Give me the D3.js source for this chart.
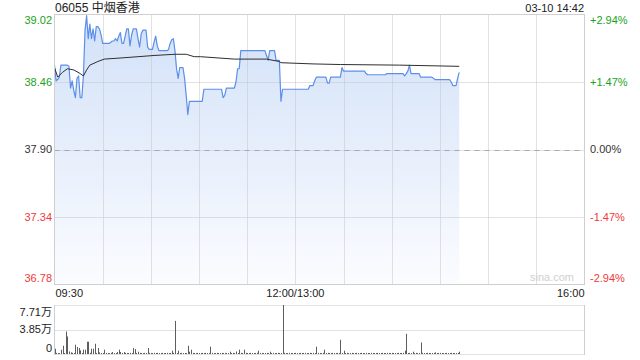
<!DOCTYPE html>
<html>
<head>
<meta charset="utf-8">
<script src="https://cdn.jsdelivr.net/npm/d3@7"></script>
<style>
  body { margin: 0; background: #fff; }
  svg text { font-family: "Liberation Sans", Arial, "Noto Sans CJK SC", sans-serif; font-size: 11px; }
</style>
</head>
<body>
<svg class="chart"></svg>
<script>
// chart size
const width = 640;
const height = 360;

// header
const stock_title = "06055 中烟香港";
const stamp = "03-10 14:42";

// previous close and price axis
const prev_close = 37.90;
const price_ticks = [39.02, 38.46, 37.90, 37.34, 36.78];
const pct_ticks = ["+2.94%", "+1.47%", "0.00%", "-1.47%", "-2.94%"];

// time axis (minutes of trading since 09:30, lunch break removed)
const total_minutes = 330;
const time_ticks = [0, 150, 330];
const time_labels = ["09:30", "12:00/13:00", "16:00"];

// price per minute, 09:30 -> 14:42
const price = [
  38.60,38.47,38.48,38.50,38.60,38.60,38.60,38.60,38.60,38.59,
  38.41,38.47,38.39,38.33,38.49,38.51,38.33,38.33,38.51,38.89,
  39.01,38.82,38.94,38.82,38.90,38.80,38.92,38.92,38.90,38.85,
  38.78,38.78,38.78,38.78,38.78,38.79,38.80,38.80,38.82,38.80,
  38.84,38.87,38.78,38.78,38.84,38.90,38.90,38.76,38.85,38.90,
  38.90,38.90,38.82,38.75,38.86,38.89,38.89,38.89,38.75,38.73,
  38.73,38.73,38.79,38.84,38.76,38.72,38.72,38.72,38.72,38.72,
  38.72,38.73,38.78,38.81,38.82,38.72,38.57,38.49,38.58,38.58,
  38.58,38.49,38.35,38.19,38.30,38.30,38.30,38.30,38.30,38.30,
  38.30,38.30,38.30,38.40,38.40,38.40,38.40,38.40,38.40,38.40,
  38.40,38.40,38.40,38.40,38.40,38.33,38.35,38.41,38.41,38.41,
  38.41,38.41,38.41,38.46,38.57,38.57,38.72,38.72,38.72,38.72,
  38.72,38.72,38.72,38.72,38.72,38.72,38.72,38.72,38.72,38.72,
  38.72,38.72,38.68,38.64,38.72,38.72,38.72,38.72,38.64,38.64,
  38.64,38.30,38.40,38.40,38.40,38.40,38.40,38.40,38.40,38.40,
  38.40,38.40,38.40,38.40,38.40,38.40,38.40,38.40,38.40,38.43,
  38.43,38.43,38.47,38.50,38.50,38.50,38.50,38.50,38.50,38.50,
  38.45,38.45,38.50,38.50,38.50,38.50,38.50,38.50,38.50,38.58,
  38.55,38.55,38.55,38.55,38.55,38.55,38.55,38.55,38.55,38.55,
  38.55,38.55,38.55,38.55,38.53,38.52,38.52,38.52,38.52,38.52,
  38.52,38.52,38.52,38.52,38.52,38.52,38.52,38.53,38.53,38.53,
  38.53,38.53,38.53,38.53,38.53,38.53,38.53,38.53,38.51,38.53,
  38.55,38.60,38.53,38.53,38.53,38.53,38.53,38.53,38.50,38.50,
  38.50,38.50,38.50,38.50,38.50,38.50,38.49,38.48,38.48,38.48,
  38.48,38.48,38.48,38.48,38.48,38.48,38.48,38.46,38.43,38.43,
  38.43,38.49,38.54
];

// average price line, read at these minutes
const avg_minutes = [0, 2, 5, 8, 12, 16, 18, 20, 22, 27, 31, 42, 52, 62, 75, 82, 87, 91, 112, 132, 140, 141, 161, 178, 215, 252];
const avg_price   = [38.58, 38.50, 38.54, 38.57, 38.56, 38.53, 38.51, 38.56, 38.60, 38.63, 38.65, 38.66, 38.67, 38.68, 38.69, 38.69, 38.67, 38.67, 38.65, 38.65, 38.63, 38.62, 38.61, 38.605, 38.60, 38.59];

// volume per minute (shares)
const volume = [
  8300,1800,1600,1500,6800,13000,1600,35400,27600,4000,
  2600,1800,1500,14600,11000,9400,5700,1600,6800,6800,
  19300,19300,1800,8300,8300,16100,1600,9400,2600,1500,
  1600,6800,1800,1600,1500,1800,3100,1500,1600,3100,
  6800,3100,1600,3100,1800,1600,1500,1800,1500,9400,
  7800,1600,3600,1800,1600,1500,1800,1600,9400,1800,
  1600,1500,1800,1600,1800,1500,1600,1800,1500,1600,
  1800,1600,1600,5200,1800,52100,1600,5200,1600,1800,
  1500,1600,1600,13000,3600,6800,1800,1600,1500,1800,
  1600,1500,1800,1600,1800,1500,1600,11500,1800,1600,
  1500,1800,1600,1500,1800,1600,1800,1500,1600,3600,
  1600,1800,1500,4000,1600,6800,1800,1600,6800,1800,
  1600,1500,1800,1600,1500,1600,1800,5200,1600,1800,
  1500,1600,1800,1600,3600,1600,1800,1500,1600,1800,
  1600,1600,77100,1800,1600,1500,1800,1600,1500,1600,
  1800,1500,1600,1800,1500,1600,1800,1600,1500,1800,
  1600,1800,1600,11500,1800,1600,1500,1800,6800,1600,
  1800,1600,1500,1800,1600,1500,1800,1600,22400,1600,
  5200,1600,1800,1500,1600,1800,1500,1600,1800,1600,
  1500,1800,1600,1500,1800,1600,1500,1800,1600,1500,
  1600,1800,1500,1600,1800,1600,1500,1800,1600,1500,
  1800,1600,1500,1600,1800,1500,1600,1800,5200,31800,
  1600,1800,1500,3600,1600,1800,1500,1600,18200,1800,
  1600,1500,1800,1600,1500,1600,1800,2600,1600,1500,
  1800,1600,1500,1600,1800,1500,1600,1800,1600,1500,
  1600,1800,3600
];
const vol_ticks = [77100, 38500, 0];
const vol_labels = ["7.71万", "3.85万", "0"];

// colours
const green = "#1aa31a";
const red = "#f03a3a";
const grid = "#c4c4c4";

const svg = d3.select(".chart").attr("width", width).attr("height", height);

// panel boxes
const left = 54.5, right = 584.5;
const top_y = 14.5, bottom_y = 284.5;
const vol_top = 305, vol_bottom = 354;

const x = d3.scaleLinear().domain([0, total_minutes]).range([left, right]);
const y = d3.scaleLinear().domain([price_ticks[4], price_ticks[0]]).range([bottom_y, top_y]);
const yv = d3.scaleLinear().domain([0, vol_ticks[0]]).range([vol_bottom, vol_top]);

// gradient for the area under the price line
const grad = svg.append("defs").append("linearGradient")
  .attr("id", "fill_grad").attr("x1", 0).attr("x2", 0).attr("y1", 0).attr("y2", 1);
grad.append("stop").attr("offset", "0%").attr("stop-color", "#d2e1f8");
grad.append("stop").attr("offset", "100%").attr("stop-color", "#fbfcff");

// area + line
const pts = price.map((p, i) => [i, p]);
svg.append("path")
  .datum(pts)
  .attr("fill", "url(#fill_grad)")
  .attr("d", d3.area().x(d => x(d[0])).y0(bottom_y).y1(d => y(d[1])));

// vertical grid every 30 minutes
const grid_g = svg.append("g");
grid_g.selectAll(".vgrid")
  .data(d3.range(30, total_minutes, 30))
  .enter().append("line").classed("vgrid", true)
  .attr("x1", d => Math.round(x(d)) + 0.5).attr("x2", d => Math.round(x(d)) + 0.5)
  .attr("y1", top_y).attr("y2", bottom_y)
  .attr("stroke", grid).attr("stroke-dasharray", "1,1");

// horizontal grid
grid_g.selectAll(".hgrid")
  .data(price_ticks.slice(1, 4))
  .enter().append("line").classed("hgrid", true)
  .attr("x1", left).attr("x2", right)
  .attr("y1", d => Math.round(y(d)) + 0.5).attr("y2", d => Math.round(y(d)) + 0.5)
  .attr("stroke", grid)
  .attr("stroke-dasharray", "1,1");

// previous close: darker dashes over the dotted line
grid_g.append("line")
  .attr("x1", left).attr("x2", right)
  .attr("y1", Math.round(y(prev_close)) + 0.5).attr("y2", Math.round(y(prev_close)) + 0.5)
  .attr("stroke", "#a8a8a8")
  .attr("stroke-dasharray", "5,5");

svg.append("path")
  .datum(pts)
  .attr("fill", "none")
  .attr("stroke", "#5b8fe9")
  .attr("stroke-width", 1.2)
  .attr("stroke-linejoin", "round")
  .attr("d", d3.line().x(d => x(d[0])).y(d => y(d[1])));

// average line
svg.append("path")
  .datum(avg_minutes.map((m, i) => [m, avg_price[i]]))
  .attr("fill", "none")
  .attr("stroke", "#2e2e2e")
  .attr("stroke-width", 1)
  .attr("d", d3.line().x(d => x(d[0])).y(d => y(d[1])));

// frame of price panel
svg.append("rect")
  .attr("x", left).attr("y", top_y)
  .attr("width", right - left).attr("height", bottom_y - top_y)
  .attr("fill", "none").attr("stroke", "#cfcfcf");

// watermark
svg.append("text").text("sina.com")
  .attr("x", 574).attr("y", 281).attr("text-anchor", "end")
  .attr("fill", "#cfcfcf").style("font-size", "11px");

// price labels
const tick_colour = (i) => i < 2 ? green : (i === 2 ? "#333" : red);
const tick_shift = (i) => i === 0 ? 6 : (i === 4 ? -6 : 0);

svg.append("g").selectAll("text")
  .data(price_ticks)
  .enter().append("text")
  .attr("x", 52).attr("y", (d, i) => y(d) + tick_shift(i))
  .attr("dy", "0.35em").attr("text-anchor", "end")
  .attr("fill", (d, i) => tick_colour(i))
  .text(d => d.toFixed(2));

svg.append("g").selectAll("text")
  .data(pct_ticks)
  .enter().append("text")
  .attr("x", 590).attr("y", (d, i) => y(price_ticks[i]) + tick_shift(i))
  .attr("dy", "0.35em")
  .attr("fill", (d, i) => tick_colour(i))
  .text(d => d);

// header
svg.append("text").text(stock_title)
  .attr("x", 55).attr("y", 12).attr("fill", "#222").style("font-size", "12px");
svg.append("text").text(stamp)
  .attr("x", 584).attr("y", 12).attr("text-anchor", "end").attr("fill", "#222");

// time labels
svg.append("g").selectAll("text")
  .data(time_ticks)
  .enter().append("text")
  .attr("x", (d, i) => i === 0 ? x(d) + 1 : x(d))
  .attr("y", 297)
  .attr("text-anchor", (d, i) => ["start", "middle", "end"][i])
  .attr("fill", "#222")
  .text((d, i) => time_labels[i]);

// volume panel
const vol_g = svg.append("g");
vol_g.selectAll(".vgridline")
  .data(vol_ticks)
  .enter().append("line").classed("vgridline", true)
  .attr("x1", left).attr("x2", right)
  .attr("y1", d => Math.round(yv(d)) + 0.5).attr("y2", d => Math.round(yv(d)) + 0.5)
  .attr("stroke", grid).attr("stroke-dasharray", "1,1");
vol_g.append("line")
  .attr("x1", left).attr("x2", left).attr("y1", vol_top).attr("y2", vol_bottom + 1)
  .attr("stroke", "#cfcfcf");
vol_g.append("line")
  .attr("x1", right).attr("x2", right).attr("y1", vol_top).attr("y2", vol_bottom + 1)
  .attr("stroke", "#cfcfcf");

vol_g.selectAll(".bar")
  .data(volume)
  .enter().append("rect").classed("bar", true)
  .attr("x", (d, i) => Math.round(x(i)))
  .attr("width", 1)
  .attr("y", d => yv(d))
  .attr("height", d => vol_bottom - yv(d))
  .attr("fill", "#5e5e5e");

vol_g.selectAll(".vlabel")
  .data(vol_ticks)
  .enter().append("text").classed("vlabel", true)
  .attr("x", 52)
  .attr("y", (d, i) => yv(d) + [7, 0, -6][i])
  .attr("dy", "0.35em").attr("text-anchor", "end")
  .attr("fill", "#222")
  .text((d, i) => vol_labels[i]);
</script>
</body>
</html>
